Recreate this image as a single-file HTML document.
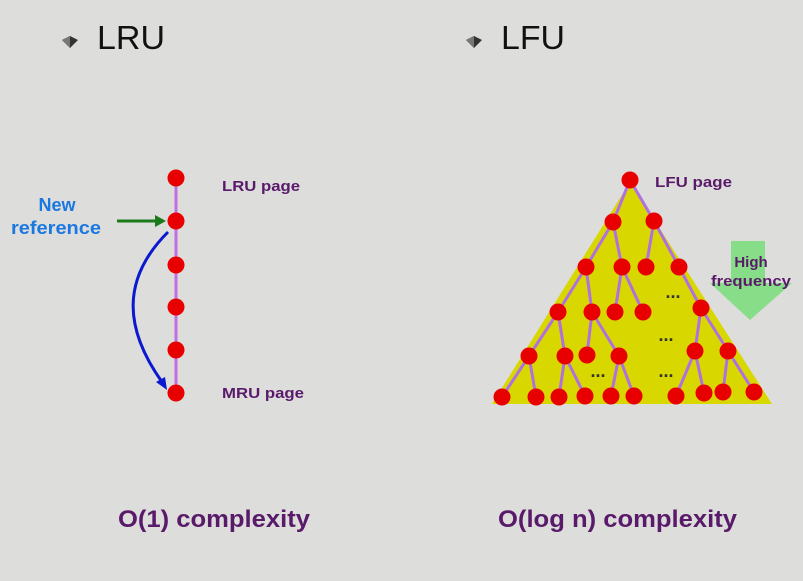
<!DOCTYPE html>
<html><head><style>body{margin:0;background:#dddddc;}svg{display:block}</style></head><body>
<svg width="803" height="581" viewBox="0 0 803 581" xmlns="http://www.w3.org/2000/svg" font-family="Liberation Sans, Arial, sans-serif">
<rect width="803" height="581" fill="#dddddc"/>
<!-- bullets -->
<path d="M62 40 L70 36 L78 40 L70 48 Z" fill="#333"/><path d="M62 40 L70 36 L70 48 Z" fill="#777"/>
<text x="97" y="49" font-size="33" fill="#111" textLength="68" lengthAdjust="spacingAndGlyphs">LRU</text>
<path d="M466 40 L474 36 L482 40 L474 48 Z" fill="#333"/><path d="M466 40 L474 36 L474 48 Z" fill="#777"/>
<text x="501" y="49" font-size="33" fill="#111" textLength="64" lengthAdjust="spacingAndGlyphs">LFU</text>
<!-- LRU -->
<line x1="176" y1="178" x2="176" y2="393" stroke="#c070e0" stroke-width="3"/>
<g fill="#e80000">
<circle cx="176" cy="178" r="8.5"/><circle cx="176" cy="221" r="8.5"/><circle cx="176" cy="265" r="8.5"/>
<circle cx="176" cy="307" r="8.5"/><circle cx="176" cy="350" r="8.5"/><circle cx="176" cy="393" r="8.5"/>
</g>
<line x1="117" y1="221" x2="158" y2="221" stroke="#1a7a1a" stroke-width="3"/>
<path d="M166 221 L155 215 L155 227 Z" fill="#1a7a1a"/>
<path d="M168 232 C 120 280, 125 330, 162 382" fill="none" stroke="#0a18d0" stroke-width="3"/>
<path d="M167 390 L156 382 L165 377 Z" fill="#0a18d0"/>
<text x="57" y="211" font-size="18" font-weight="bold" fill="#1a78e0" text-anchor="middle">New</text>
<text x="56" y="234" font-size="18" font-weight="bold" fill="#1a78e0" text-anchor="middle" textLength="90" lengthAdjust="spacingAndGlyphs">reference</text>
<text x="222" y="191" font-size="15" font-weight="bold" fill="#5a1a6a" textLength="78" lengthAdjust="spacingAndGlyphs">LRU page</text>
<text x="222" y="398" font-size="15" font-weight="bold" fill="#5a1a6a" textLength="82" lengthAdjust="spacingAndGlyphs">MRU page</text>
<text x="118" y="527" font-size="24" font-weight="bold" fill="#5a1a6a" textLength="192" lengthAdjust="spacingAndGlyphs">O(1) complexity</text>
<!-- LFU -->
<path d="M630 182 L492 404 L772 404 Z" fill="#d8d800"/>
<path d="M731 241 L765 241 L765 283 L792 283 L750 320 L710 283 L731 283 Z" fill="#88dd88"/>
<text x="751" y="267" font-size="15" font-weight="bold" fill="#5a1a6a" text-anchor="middle">High</text>
<text x="751" y="286" font-size="15" font-weight="bold" fill="#5a1a6a" text-anchor="middle" textLength="80" lengthAdjust="spacingAndGlyphs">frequency</text>
<g stroke="#b070e0" stroke-width="3">
<line x1="630" y1="180" x2="613" y2="222"/><line x1="630" y1="180" x2="654" y2="221"/>
<line x1="613" y1="222" x2="586" y2="267"/><line x1="613" y1="222" x2="622" y2="267"/>
<line x1="654" y1="221" x2="646" y2="267"/><line x1="654" y1="221" x2="679" y2="267"/>
<line x1="586" y1="267" x2="558" y2="312"/><line x1="586" y1="267" x2="592" y2="312"/>
<line x1="622" y1="267" x2="615" y2="312"/><line x1="622" y1="267" x2="643" y2="312"/>
<line x1="679" y1="267" x2="701" y2="308"/>
<line x1="558" y1="312" x2="529" y2="356"/><line x1="558" y1="312" x2="565" y2="356"/>
<line x1="592" y1="312" x2="587" y2="355"/><line x1="592" y1="312" x2="619" y2="356"/>
<line x1="701" y1="308" x2="695" y2="351"/><line x1="701" y1="308" x2="728" y2="351"/>
<line x1="529" y1="356" x2="502" y2="397"/><line x1="529" y1="356" x2="536" y2="397"/>
<line x1="565" y1="356" x2="559" y2="397"/><line x1="565" y1="356" x2="585" y2="396"/>
<line x1="619" y1="356" x2="611" y2="396"/><line x1="619" y1="356" x2="634" y2="396"/>
<line x1="695" y1="351" x2="676" y2="396"/><line x1="695" y1="351" x2="704" y2="393"/>
<line x1="728" y1="351" x2="723" y2="392"/><line x1="728" y1="351" x2="754" y2="392"/>
</g>
<g fill="#e80000">
<circle cx="630" cy="180" r="8.5"/>
<circle cx="613" cy="222" r="8.5"/><circle cx="654" cy="221" r="8.5"/>
<circle cx="586" cy="267" r="8.5"/><circle cx="622" cy="267" r="8.5"/><circle cx="646" cy="267" r="8.5"/><circle cx="679" cy="267" r="8.5"/>
<circle cx="558" cy="312" r="8.5"/><circle cx="592" cy="312" r="8.5"/><circle cx="615" cy="312" r="8.5"/><circle cx="643" cy="312" r="8.5"/><circle cx="701" cy="308" r="8.5"/>
<circle cx="529" cy="356" r="8.5"/><circle cx="565" cy="356" r="8.5"/><circle cx="587" cy="355" r="8.5"/><circle cx="619" cy="356" r="8.5"/><circle cx="695" cy="351" r="8.5"/><circle cx="728" cy="351" r="8.5"/>
<circle cx="502" cy="397" r="8.5"/><circle cx="536" cy="397" r="8.5"/><circle cx="559" cy="397" r="8.5"/><circle cx="585" cy="396" r="8.5"/><circle cx="611" cy="396" r="8.5"/><circle cx="634" cy="396" r="8.5"/><circle cx="676" cy="396" r="8.5"/><circle cx="704" cy="393" r="8.5"/><circle cx="723" cy="392" r="8.5"/><circle cx="754" cy="392" r="8.5"/>
</g>
<g font-size="18" font-weight="bold" fill="#333" text-anchor="middle">
<text x="673" y="298">...</text><text x="666" y="341">...</text><text x="598" y="377">...</text><text x="666" y="377">...</text>
</g>
<text x="655" y="187" font-size="15" font-weight="bold" fill="#5a1a6a" textLength="77" lengthAdjust="spacingAndGlyphs">LFU page</text>
<text x="498" y="527" font-size="24" font-weight="bold" fill="#5a1a6a" textLength="239" lengthAdjust="spacingAndGlyphs">O(log n) complexity</text>
</svg>
</body></html>
